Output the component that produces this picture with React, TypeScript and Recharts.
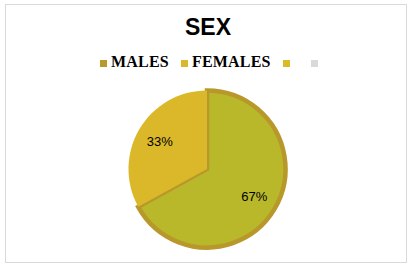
import React from 'react';
import { PieChart, Pie, Cell } from 'recharts';

const categories = ['MALES', 'FEMALES'];
const shares = [67, 33];
const legendNames = ['MALES', 'FEMALES', '', ''];

const sliceFills = ['#b8b82a', '#dbb829'];
const sliceStrokes = ['#b8982a', 'none'];
const legendColors = ['#b89a2a', '#dbb829', '#dbba2a', '#d9d9d9'];

const chartData = categories.map((name, i) => ({ name, value: shares[i] }));

const RADIAN = Math.PI / 180;

const renderLabel = (props: any) => {
    const { cx, cy, midAngle, outerRadius, value } = props;
    const r = outerRadius * 0.7;
    const x = cx + r * Math.cos(-midAngle * RADIAN);
    const y = cy + r * Math.sin(-midAngle * RADIAN);
    return (
        <text
            x={x}
            y={y}
            fill="#000"
            textAnchor="middle"
            dominantBaseline="central"
            style={{ fontFamily: 'Liberation Sans, Arial, sans-serif', fontSize: 13 }}
        >
            {`${value}%`}
        </text>
    );
};

const LegendRow = () => (
    <div style={{ display: 'flex', justifyContent: 'flex-start', alignItems: 'center' }}>
        {legendNames.map((name, i) => (
            <div key={i} style={{ display: 'flex', alignItems: 'center', marginRight: name ? 12 : 17 }}>
                <span style={{ width: 7, height: 7, background: legendColors[i], display: 'inline-block', marginRight: 4, marginTop: 3 }} />
                <span style={{ fontFamily: 'Liberation Serif, Times New Roman, serif', fontWeight: 'bold', fontSize: 16, color: '#000', letterSpacing: 0.2 }}>
                    {name}
                </span>
            </div>
        ))}
    </div>
);

export default function App() {
    return (
        <div style={{ position: 'absolute', left: 0, top: 0, width: 416, height: 271, background: '#fff' }}>
            <div style={{ position: 'absolute', left: 5, top: 4, width: 400, height: 257, border: '1px solid #d9d9d9' }} />
            <div
                style={{
                    position: 'absolute',
                    left: 0,
                    top: 14,
                    width: 416,
                    textAlign: 'center',
                    fontFamily: 'Liberation Sans, Arial, sans-serif',
                    fontWeight: 'bold',
                    fontSize: 23,
                    color: '#000'
                }}
            >
                SEX
            </div>
            <div style={{ position: 'absolute', left: 100, top: 53 }}>
                <LegendRow />
            </div>
            <div style={{ position: 'absolute', left: 0, top: 0 }}>
                <PieChart width={416} height={271} margin={{ top: 0, right: 0, bottom: 0, left: 0 }}>
                    <Pie
                        data={chartData}
                        dataKey="value"
                        nameKey="name"
                        cx={207}
                        cy={169}
                        outerRadius={78.5}
                        startAngle={90}
                        endAngle={-270}
                        label={renderLabel}
                        labelLine={false}
                        isAnimationActive={false}
                    >
                        {chartData.map((d, i) => (
                            <Cell key={d.name} fill={sliceFills[i]} stroke={sliceStrokes[i]} strokeWidth={i === 0 ? 4.5 : 0} />
                        ))}
                    </Pie>
                </PieChart>
            </div>
        </div>
    );
}
